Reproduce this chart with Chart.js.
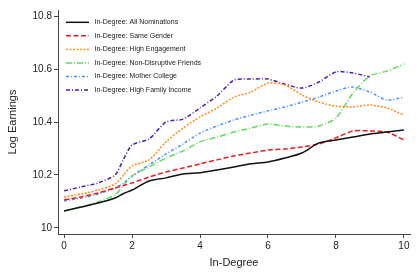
<!DOCTYPE html>
<html>
<head>
<meta charset="utf-8">
<script src="https://cdn.jsdelivr.net/npm/chart.js@4"></script>
<style>
  html, body { margin: 0; padding: 0; background: #fff; }
  #wrap { width: 420px; height: 280px; }
</style>
</head>
<body>
<div id="wrap"><canvas id="chart-1" width="420" height="280"></canvas></div>
<script>
// x positions (in-degree)
const xs = [0, 0.5, 1, 1.5, 1.75, 2, 2.5, 3, 3.5, 4, 4.5, 5, 5.5, 6, 6.5, 7, 7.5, 8, 8.5, 9, 9.5, 10]

const allNominations = [10.064, 10.079, 10.094, 10.113, 10.130, 10.143, 10.177, 10.189, 10.204, 10.208, 10.219, 10.230, 10.242, 10.249, 10.264, 10.283, 10.321, 10.332, 10.343, 10.355, 10.362, 10.370]
const sameGender = [10.106, 10.117, 10.132, 10.151, 10.160, 10.170, 10.192, 10.211, 10.226, 10.242, 10.257, 10.272, 10.283, 10.294, 10.298, 10.306, 10.317, 10.340, 10.366, 10.366, 10.362, 10.332]
const highEngagement = [10.117, 10.128, 10.143, 10.166, 10.200, 10.234, 10.257, 10.325, 10.377, 10.419, 10.453, 10.494, 10.513, 10.547, 10.540, 10.502, 10.475, 10.460, 10.457, 10.464, 10.453, 10.426]
const nonDisruptive = [10.064, 10.079, 10.098, 10.125, 10.160, 10.196, 10.230, 10.264, 10.291, 10.325, 10.343, 10.362, 10.377, 10.392, 10.385, 10.381, 10.385, 10.415, 10.509, 10.574, 10.592, 10.619]
const motherCollege = [10.102, 10.113, 10.128, 10.151, 10.170, 10.196, 10.238, 10.279, 10.317, 10.358, 10.385, 10.408, 10.426, 10.442, 10.457, 10.475, 10.494, 10.517, 10.532, 10.513, 10.483, 10.494]
const highIncome = [10.140, 10.155, 10.170, 10.200, 10.260, 10.313, 10.336, 10.400, 10.411, 10.453, 10.498, 10.558, 10.562, 10.562, 10.543, 10.528, 10.551, 10.589, 10.585, 10.570, null, null]

const labels = [
    'In-Degree: All Nominations',
    'In-Degree: Same Gender',
    'In-Degree: High Engagement',
    'In-Degree: Non-Disruptive Friends',
    'In-Degree: Mother College',
    'In-Degree: High Family Income'
]
const xTicks = [0, 2, 4, 6, 8, 10]
const yTicks = [10, 10.2, 10.4, 10.6, 10.8]

const FONT = '"Liberation Sans", Arial, sans-serif'
const AXIS = '#444'

const pts = arr => xs.map((x, i) => ({ x: x, y: arr[i] })).filter(p => p.y !== null)

const series = [
    { data: allNominations, color: '#111111', dash: [] },
    { data: sameGender, color: '#ee1c1c', dash: [5, 2.5] },
    { data: highEngagement, color: '#ff8c1a', dash: [2, 1.5] },
    { data: nonDisruptive, color: '#5fdc5f', dash: [6, 2, 1, 2] },
    { data: motherCollege, color: '#4a90ff', dash: [3, 2, 1, 2] },
    { data: highIncome, color: '#4b1fb0', dash: [4, 2, 1, 2] }
]

// legend drawn on canvas so the dash patterns show
const dashLegend = {
    id: 'dashLegend',
    afterDraw(chart) {
        const c = chart.ctx
        c.save()
        chart.data.datasets.forEach((ds, i) => {
            const y = 22.3 + i * 13.55
            c.strokeStyle = ds.borderColor
            c.lineWidth = 1.5
            c.setLineDash(ds.borderDash)
            c.beginPath()
            c.moveTo(66, y)
            c.lineTo(89, y)
            c.stroke()
            c.setLineDash([])
            c.fillStyle = '#222'
            c.font = '7px ' + FONT
            c.textBaseline = 'middle'
            c.textAlign = 'left'
            c.fillText(ds.label, 94.5, y)
        })
        c.restore()
    }
}

new Chart(document.getElementById('chart-1'), {
    type: 'line',
    data: {
        datasets: series.map((s, i) => ({
            label: labels[i],
            data: pts(s.data),
            borderColor: s.color,
            borderDash: s.dash,
            borderWidth: 1.5,
            pointRadius: 0,
            fill: false,
            tension: 0.25
        }))
    },
    options: {
        responsive: false,
        animation: false,
        layout: { padding: { left: 2, right: 10, top: 10, bottom: 10 } },
        plugins: {
            legend: { display: false },
            tooltip: { enabled: false }
        },
        scales: {
            x: {
                type: 'linear',
                min: -0.18,
                max: 10.18,
                afterBuildTicks: s => { s.ticks = xTicks.map(v => ({ value: v })) },
                afterFit: s => { s.height = 36 },
                grid: { drawOnChartArea: false, drawTicks: true, tickLength: 4, color: AXIS },
                border: { color: AXIS, width: 1 },
                ticks: { color: '#222', font: { family: FONT, size: 10 }, padding: 2, maxRotation: 0 },
                title: { display: true, text: 'In-Degree', color: '#222', font: { family: FONT, size: 11 }, padding: { top: 3, bottom: 0 } }
            },
            y: {
                min: 9.977,
                max: 10.823,
                afterBuildTicks: s => { s.ticks = yTicks.map(v => ({ value: v })) },
                afterFit: s => { s.width = 56 },
                grid: { drawOnChartArea: false, drawTicks: true, tickLength: 4, color: AXIS },
                border: { color: AXIS, width: 1 },
                ticks: { color: '#222', font: { family: FONT, size: 10 }, padding: 2, callback: v => String(Math.round(v * 10) / 10) },
                title: { display: true, text: 'Log Earnings', color: '#222', font: { family: FONT, size: 11 }, padding: { bottom: 4 } }
            }
        }
    },
    plugins: [dashLegend]
});
</script>
</body>
</html>
